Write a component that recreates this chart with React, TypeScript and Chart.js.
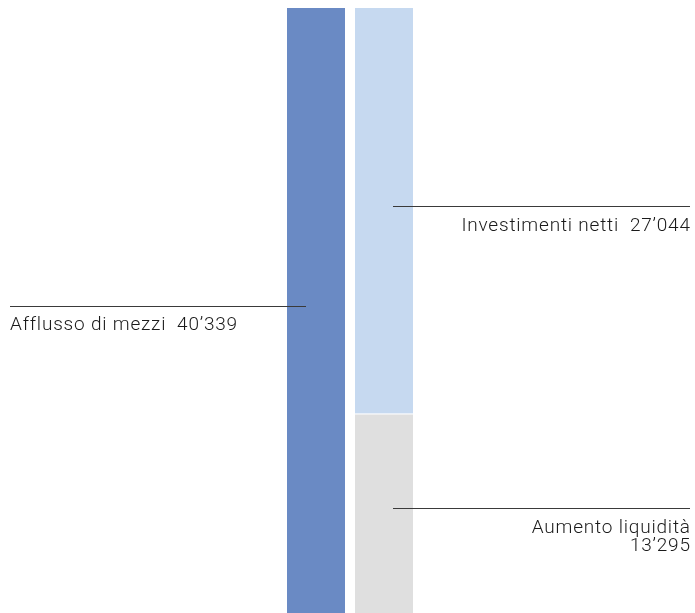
import React, { useEffect, useRef } from "react";
import { Chart, registerables } from "chart.js";

Chart.register(...registerables);

const categories = ["Fonti", "Impieghi"];
const afflussoValues = [40339, null];
const aumentoValues = [null, 13295];
const investimentiValues = [null, 27044];

const afflussoLabel = ["Afflusso di mezzi  40’339"];
const investimentiLabel = ["Investimenti netti  27’044"];
const aumentoLabel = ["Aumento liquidità", "13’295"];

const FONT = "300 19px Roboto, 'Liberation Sans', sans-serif";
const SPACING = 0.8;

const labelPlugin = {
  id: "sideLabels",
  afterDatasetsDraw(chart: any) {
    const ctx = chart.ctx;
    const x = chart.scales.x;
    const y = chart.scales.y;
    const W = chart.width;
    ctx.save();
    ctx.strokeStyle = "#3a3a3a";
    ctx.lineWidth = 1;
    ctx.fillStyle = "#1a1a1a";
    ctx.font = FONT;
    (ctx as any).letterSpacing = SPACING + "px";
    ctx.textBaseline = "alphabetic";

    // Left: afflusso
    const cx0 = x.getPixelForValue(0);
    const ly = Math.round(y.getPixelForValue((afflussoValues[0] as number) / 2) - 5) + 0.5;
    ctx.beginPath();
    ctx.moveTo(10, ly);
    ctx.lineTo(cx0 - 10, ly);
    ctx.stroke();
    ctx.textAlign = "left";
    afflussoLabel.forEach((t, i) => ctx.fillText(t, 10, ly + 23.5 + i * 18));

    // Right: investimenti and aumento
    const cx1 = x.getPixelForValue(1);
    const aum = aumentoValues[1] as number;
    const inv = investimentiValues[1] as number;
    const ry1 = Math.round(y.getPixelForValue(aum + inv / 2) - 5) + 0.5;
    const ry2 = Math.round(y.getPixelForValue(aum / 2) - 5) + 0.5;
    ctx.textAlign = "right";
    [[ry1, investimentiLabel], [ry2, aumentoLabel]].forEach(([yy, lines]: any) => {
      ctx.beginPath();
      ctx.moveTo(cx1 + 9, yy);
      ctx.lineTo(W - 5, yy);
      ctx.stroke();
      lines.forEach((t: string, i: number) => ctx.fillText(t, W - 5 + SPACING, yy + 24 + i * 18.5));
    });
    ctx.restore();
  },
};

export default function App() {
  const ref = useRef<HTMLCanvasElement>(null);
  useEffect(() => {
    if (!ref.current) return;
    const chart = new Chart(ref.current, {
      type: "bar",
      data: {
        labels: categories,
        datasets: [
          {
            label: "Afflusso di mezzi",
            data: afflussoValues,
            backgroundColor: "#6a8ac4",
            borderWidth: 0,
            stack: "s",
          },
          {
            label: "Aumento liquidità",
            data: aumentoValues,
            backgroundColor: "#dfdfdf",
            borderColor: "#ffffff",
            borderWidth: { top: 1, left: 0, right: 0, bottom: 0 },
            borderSkipped: false,
            stack: "s",
          },
          {
            label: "Investimenti netti",
            data: investimentiValues,
            backgroundColor: "#c6d9f0",
            borderWidth: 0,
            stack: "s",
          },
        ] as any,
      },
      options: {
        animation: false,
        responsive: true,
        maintainAspectRatio: false,
        layout: { padding: { left: 282, right: 277, top: 8, bottom: 0 } },
        datasets: { bar: { categoryPercentage: 1, barPercentage: 58 / 68 } },
        scales: {
          x: { display: false, stacked: true },
          y: { display: false, stacked: true, min: 0, max: 40339 },
        },
        plugins: { legend: { display: false }, tooltip: { enabled: false } },
      } as any,
      plugins: [labelPlugin],
    });
    return () => chart.destroy();
  }, []);
  return (
    <div style={{ position: "fixed", left: 0, top: 0, width: 695, height: 613, background: "#fff" }}>
      <canvas ref={ref} />
    </div>
  );
}
